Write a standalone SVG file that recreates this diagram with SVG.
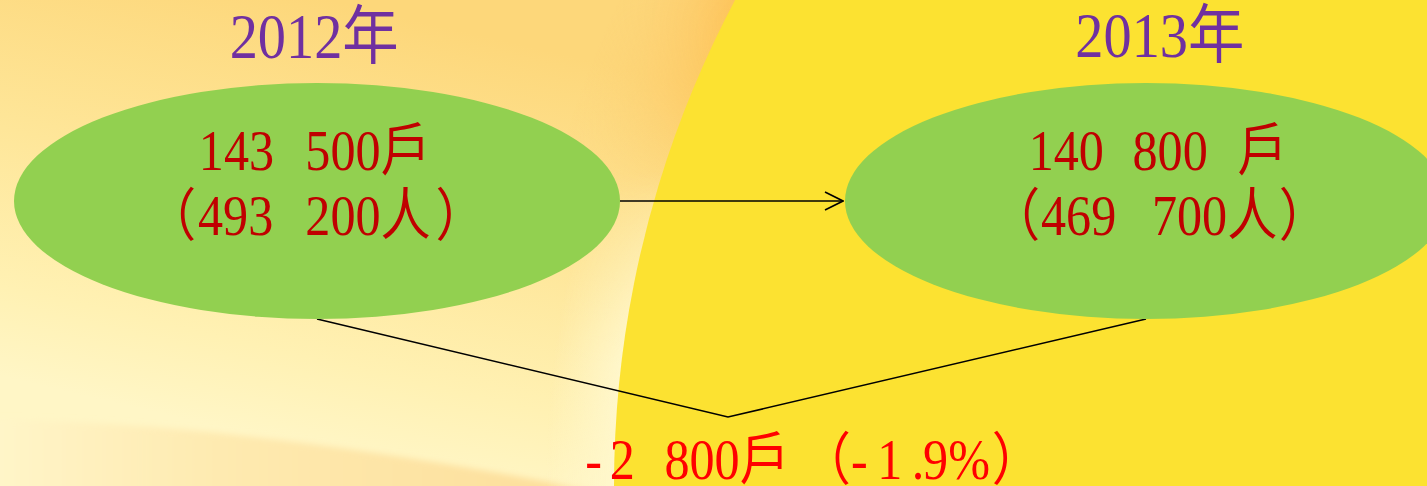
<svg xmlns="http://www.w3.org/2000/svg" width="1427" height="486" viewBox="0 0 1427 486">
<style>
.node{fill:#92D050;}
.lbl{font-family:"Liberation Serif","Noto Sans CJK TC",serif;font-size:57px;fill:#C00000;}
.yr{font-family:"Liberation Serif","Noto Sans CJK TC",serif;font-size:64px;fill:#7030A0;}
.chg{font-family:"Liberation Serif","Noto Sans CJK TC",serif;font-size:57px;fill:#FF0000;}
.conn{fill:none;stroke:#000;stroke-width:1.6;}
</style>
<defs>
<linearGradient id="bgL" x1="330" y1="0" x2="230" y2="430" gradientUnits="userSpaceOnUse">
<stop offset="0" stop-color="#FDD77A"/>
<stop offset="0.45" stop-color="#FEE699"/>
<stop offset="0.8" stop-color="#FFF1B3"/>
<stop offset="1" stop-color="#FFF6C6"/>
</linearGradient>
<linearGradient id="band" x1="0" y1="0" x2="620" y2="0" gradientUnits="userSpaceOnUse">
<stop offset="0" stop-color="#FFF5C8"/>
<stop offset="0.35" stop-color="#FEEAB0"/>
<stop offset="1" stop-color="#FDDD98"/>
</linearGradient>
<radialGradient id="glow" cx="1650" cy="486" r="1200" gradientUnits="userSpaceOnUse">
<stop offset="0.86" stop-color="#FDC35A" stop-opacity="1"/>
<stop offset="0.95" stop-color="#FDD27A" stop-opacity="0"/>
</radialGradient>
<radialGradient id="glowLow" cx="1650" cy="486" r="1200" gradientUnits="userSpaceOnUse">
<stop offset="0.86" stop-color="#FFF7CC" stop-opacity="1"/>
<stop offset="0.92" stop-color="#FFF7CC" stop-opacity="0"/>
</radialGradient>
<linearGradient id="mg" x1="0" y1="0" x2="0" y2="486" gradientUnits="userSpaceOnUse">
<stop offset="0" stop-color="#fff"/>
<stop offset="0.42" stop-color="#000"/>
</linearGradient>
<linearGradient id="mg2" x1="0" y1="0" x2="0" y2="486" gradientUnits="userSpaceOnUse">
<stop offset="0.35" stop-color="#000"/>
<stop offset="0.75" stop-color="#fff"/>
</linearGradient>
<mask id="mTop"><rect width="1427" height="486" fill="url(#mg)"/></mask>
<mask id="mLow"><rect width="1427" height="486" fill="url(#mg2)"/></mask>
<filter id="blur" x="-10%" y="-10%" width="120%" height="120%"><feGaussianBlur stdDeviation="3"/></filter>
<marker id="arr" viewBox="0 0 20 20" refX="19" refY="10" markerWidth="20" markerHeight="20" markerUnits="userSpaceOnUse" orient="auto">
<path d="M1,1 L19,10 L1,19" fill="none" stroke="#000" stroke-width="1.6"/>
</marker>
</defs>

<g id="background">
<rect width="1427" height="486" fill="url(#bgL)"/>
<path d="M-20,420 Q250,420 640,500 L-20,500 Z" fill="url(#band)" filter="url(#blur)"/>
<rect width="1427" height="486" fill="url(#glowLow)" mask="url(#mLow)"/>
<rect width="1427" height="486" fill="url(#glow)" mask="url(#mTop)"/>
<circle cx="1650" cy="486" r="1036" fill="#FCE231"/>
</g>

<g id="connectors">
<path class="conn" d="M620,201 L843,201" marker-end="url(#arr)"/>
<path class="conn" d="M317,319 L728,417 L1146,319"/>
</g>

<g id="node2012">
<text class="yr" x="261" y="58" transform="scale(0.88 1)">2012年</text>
<ellipse class="node" cx="317" cy="201" rx="303" ry="118"/>
<text class="lbl" y="170" transform="scale(0.88 1)"><tspan x="226">143 </tspan><tspan x="347">500戶</tspan></text>
<text class="lbl" y="235" transform="scale(0.88 1)"><tspan x="166">（</tspan><tspan x="225">493 </tspan><tspan x="347">200人</tspan><tspan x="495">）</tspan></text>
</g>

<g id="node2013">
<text class="yr" x="1222" y="57" transform="scale(0.88 1)">2013年</text>
<ellipse class="node" cx="1146" cy="201" rx="301" ry="118"/>
<text class="lbl" y="170" transform="scale(0.88 1)"><tspan x="1169">140 </tspan><tspan x="1287">800 </tspan><tspan x="1406">戶</tspan></text>
<text class="lbl" y="235" transform="scale(0.88 1)"><tspan x="1125">（</tspan><tspan x="1183">469 </tspan><tspan x="1309">700人</tspan><tspan x="1453">）</tspan></text>
</g>

<g id="change">
<text class="chg" y="479" transform="scale(0.88 1)"><tspan x="665">-</tspan><tspan x="693">2 </tspan><tspan x="755">800戶 </tspan><tspan x="910">（</tspan><tspan x="967">-</tspan><tspan x="997">1</tspan><tspan x="1036">.</tspan><tspan x="1049">9%</tspan><tspan x="1127">）</tspan></text>
</g>
</svg>
